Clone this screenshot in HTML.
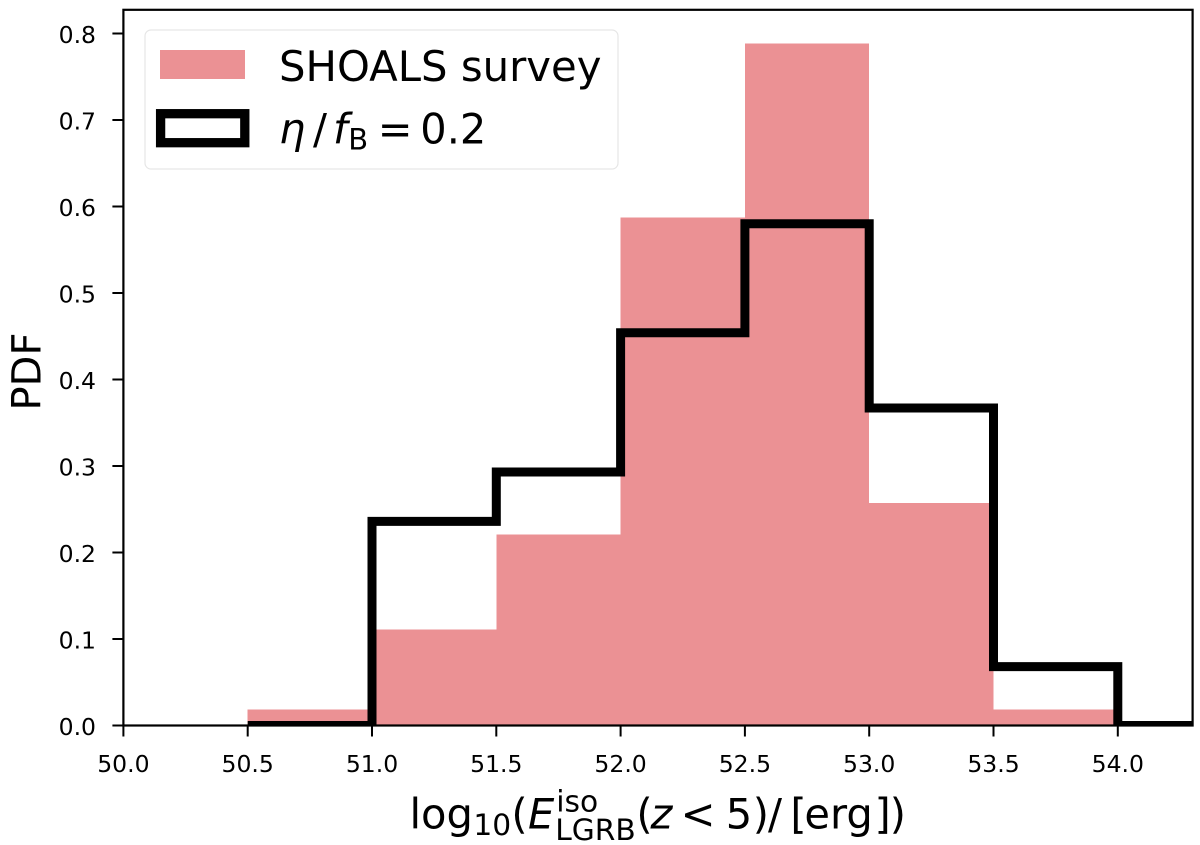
<!DOCTYPE html>
<html lang="en">
<head>
<meta charset="utf-8">
<title>SHOALS survey histogram</title>
<style>
html,body{margin:0;padding:0;background:#fff;width:1200px;height:845px;overflow:hidden}
svg{display:block}
text{font-family:"DejaVu Sans","Liberation Sans",sans-serif;fill:#000}
</style>
</head>
<body>
<svg id="chart" width="1200" height="845" viewBox="0 0 1200 845" xmlns="http://www.w3.org/2000/svg">
  <rect x="0" y="0" width="1200" height="845" fill="#fff"/>
  <g id="bars"></g>
  <g id="stepLayer"></g>
  <g id="axes"></g>

  <g>
    <rect x="145" y="30" width="473" height="139" rx="6" fill="#fff" fill-opacity="0.8" stroke="#e6e6e6" stroke-width="1.2"/>
    <rect x="160" y="50" width="85" height="29" fill="#eb9194"/>
    <text x="279" y="81" font-size="41.8">SHOALS survey</text>
    <rect x="160.6" y="113.7" width="84.2" height="29" fill="none" stroke="#000" stroke-width="9.3"/>
    <text y="143.3" font-size="41.5"><tspan x="279" font-style="italic">η</tspan><tspan x="313">/</tspan><tspan x="333" font-style="italic">f</tspan><tspan x="348.3" y="149.3" font-size="29">B</tspan><tspan x="377.7" y="143.3">=</tspan><tspan x="420.3" y="143.3">0.2</tspan></text>
  </g>

  <text transform="translate(40.5,371.5) rotate(-90)" text-anchor="middle" font-size="40">PDF</text>

  <text y="828.3" font-size="41.6"><tspan x="409.5">log</tspan><tspan x="473.4" y="835" font-size="29.7">10</tspan><tspan x="511.4" y="828.3">(</tspan><tspan x="528" font-style="italic">E</tspan><tspan x="556.3" y="811.7" font-size="29.7">iso</tspan><tspan x="555.2" y="840" font-size="29.7">LGRB</tspan><tspan x="636.4" y="828.3">(</tspan><tspan x="650.5" font-style="italic">z</tspan><tspan x="680.6">&lt;</tspan><tspan x="725.8">5</tspan><tspan x="752.7">)</tspan><tspan x="768">/</tspan><tspan x="790.4">[</tspan><tspan x="804.4">erg</tspan><tspan x="874.5">]</tspan><tspan x="889.7">)</tspan></text>
</svg>

<script>
const binEdges = [50.5, 51.0, 51.5, 52.0, 52.5, 53.0, 53.5, 54.0];
const shoalsValues = [0.0187, 0.111, 0.221, 0.5875, 0.7884, 0.257, 0.0187];
const modelEdges = [50.5, 51.0, 51.5, 52.0, 52.5, 53.0, 53.5, 54.0, 54.5];
const modelValues = [0.0, 0.236, 0.293, 0.454, 0.58, 0.367, 0.068, 0.0];
const xTickLabels = ["50.0", "50.5", "51.0", "51.5", "52.0", "52.5", "53.0", "53.5", "54.0"];
const yTickLabels = ["0.0", "0.1", "0.2", "0.3", "0.4", "0.5", "0.6", "0.7", "0.8"];

const NS = 'http://www.w3.org/2000/svg';
const plotLeft = 123.4, plotRight = 1192.6, plotTop = 9.8, plotBottom = 725.5;
const xMin = 50.0, xPerUnit = 248.6, yPerUnit = 865;
function xScale(v) { return plotLeft + (v - xMin) * xPerUnit; }
function yScale(v) { return plotBottom - v * yPerUnit; }
function make(tag, attrs) {
  const el = document.createElementNS(NS, tag);
  for (const k in attrs) el.setAttribute(k, attrs[k]);
  return el;
}

const bars = document.getElementById('bars');
shoalsValues.forEach(function (v, i) {
  const x0 = xScale(binEdges[i]), x1 = xScale(binEdges[i + 1]);
  const r = make('rect', { x: x0, y: yScale(v), width: x1 - x0, height: plotBottom - yScale(v), fill: '#eb9194', 'shape-rendering': 'crispEdges' });
  
  
  bars.appendChild(r);
});

const stepLayer = document.getElementById('stepLayer');
const clip = make('clipPath', { id: 'plotClip' });
clip.appendChild(make('rect', { x: plotLeft, y: plotTop, width: plotRight - plotLeft, height: plotBottom - plotTop + 0.5 }));
stepLayer.appendChild(clip);
let d = '';
modelValues.forEach(function (v, i) {
  d += (i === 0 ? 'M' : ' L') + xScale(modelEdges[i]) + ' ' + yScale(v) + ' L' + xScale(modelEdges[i + 1]) + ' ' + yScale(v);
});
const step = make('path', { d: d, fill: 'none', stroke: '#000', 'stroke-width': 9, 'stroke-linejoin': 'miter', 'stroke-linecap': 'butt', 'clip-path': 'url(#plotClip)' });


stepLayer.appendChild(step);

const axes = document.getElementById('axes');
const frame = make('rect', { x: plotLeft, y: plotTop, width: plotRight - plotLeft, height: plotBottom - plotTop, fill: 'none', stroke: '#000', 'stroke-width': 2.2 });


axes.appendChild(frame);

xTickLabels.forEach(function (t) {
  const x = xScale(parseFloat(t));
  const tick = make('line', { x1: x, x2: x, y1: plotBottom, y2: plotBottom + 11, stroke: '#000', 'stroke-width': 2 });
  
  
  axes.appendChild(tick);
  const label = make('text', { x: x, y: 772, 'text-anchor': 'middle', 'font-size': 23.5 });
  
  
  label.textContent = t;
  axes.appendChild(label);
});

yTickLabels.forEach(function (t) {
  const y = yScale(parseFloat(t));
  const tick = make('line', { x1: plotLeft - 11, x2: plotLeft, y1: y, y2: y, stroke: '#000', 'stroke-width': 2 });
  
  
  axes.appendChild(tick);
  const label = make('text', { x: 96, y: y + 9.5, 'text-anchor': 'end', 'font-size': 23.5 });
  
  
  label.textContent = t;
  axes.appendChild(label);
});
</script>
</body>
</html>
